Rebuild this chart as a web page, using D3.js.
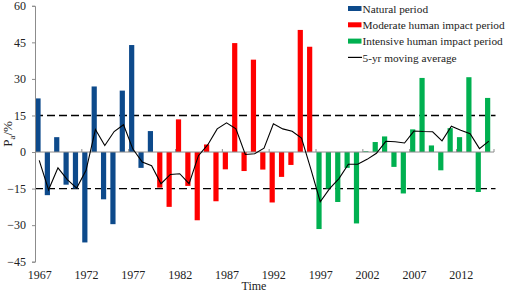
<!DOCTYPE html>
<html>
<head>
<meta charset="utf-8">
<script src="https://cdn.jsdelivr.net/npm/d3@7"></script>
<style>
  body { margin: 0; background: #fff; }
  svg { display: block; font-family: 'Liberation Serif', 'Times New Roman', serif; }
</style>
</head>
<body>
<div id="chart"></div>
<script>
// yearly Pa values (%), 1967-2015
const years = d3.range(1967, 2016)
const paValues = [
  22, -17.7, 6.1, -13.4, -15, -37.1, 26.9, -19.4, -29.6, 25.2, 43.9, -6.5, 8.6,
  -14.6, -22.5, 13.4, -13.9, -28, 3.1, -20.2, -7.1, 44.7, -7.8, 37.9, -7.2, -20.7, -10.2, -5.3, 50.1, 43.2,
  -31.6, -15, -20.5, -6.5, -29.3, 0.3, 4.1, 6.4, -6.1, -17, 9.3, 30.4, 2.7, -7.5, 9.8, 6.1, 30.7, -16.4, 22.2,
]
const movingAvg = [
  -3.4, -15.5, -6.5, -11.3, -14.8, -7.5, 9.3, 2.7, 8.4, 11.2, 1.2, -4.1, -5.6,
  -13, -9.2, -8.9, -13, -1.5, 3, 9.5, 12, 9.5, -1, -0.7, 1.6, 11.6, 9.5, 8.5, 5.7, -7,
  -20.4, -15, -10.9, -5, -5, -3, -0.5, 4.4, 4.2, 3.7, 8.6, 8.4, 8.3, 4.6, 10.6, 8.9, 7.5, 1.4, 4.5,
]
const periods = [
  { name: 'Natural period', start: 1967, end: 1979, color: '#0d4a8b' },
  { name: 'Moderate human impact period', start: 1980, end: 1996, color: '#ff0000' },
  { name: 'Intensive human impact period', start: 1997, end: 2015, color: '#00b050' },
]
const yTicks = [60, 45, 30, 15, 0, -15, -30, -45]
const xTickYears = [1967, 1972, 1977, 1982, 1987, 1992, 1997, 2002, 2007, 2012]
const thresholds = [15, -15]

const width = 505
const height = 292
const plotLeft = 35
const plotRight = 494
const plotTop = 5.8
const plotBottom = 261.7

const data = years.map((y, i) => ({
  year: y,
  value: paValues[i],
  avg: movingAvg[i],
  period: periods.find(p => y >= p.start && y <= p.end),
}))

const svg = d3.select('#chart').append('svg')
  .attr('width', width).attr('height', height)

const xScale = d3.scaleBand().domain(years).range([plotLeft, plotRight]).padding(0)
const yScale = d3.scaleLinear().domain([-45, 60]).range([plotBottom, plotTop])
const step = xScale.step()

// threshold dashed lines
svg.append('g').selectAll('line')
  .data(thresholds)
  .join('line')
  .attr('x1', plotLeft).attr('x2', 495.5)
  .attr('y1', d => yScale(d)).attr('y2', d => yScale(d))
  .attr('stroke', '#000').attr('stroke-width', 1.4)
  .attr('stroke-dasharray', '8,4')

// bars
svg.append('g').selectAll('rect')
  .data(data)
  .join('rect')
  .attr('x', d => xScale(d.year) + 0.4)
  .attr('width', 5.2)
  .attr('y', d => yScale(Math.max(0, d.value)))
  .attr('height', d => Math.abs(yScale(d.value) - yScale(0)))
  .attr('fill', d => d.period.color)

// x axis line at zero, ticks every 5 categories pointing up
const zeroY = yScale(0)
svg.append('line')
  .attr('x1', plotLeft).attr('x2', plotRight)
  .attr('y1', zeroY).attr('y2', zeroY)
  .attr('stroke', '#8c8c8c').attr('stroke-width', 1)
svg.append('g').selectAll('line')
  .data(years.filter((y, i) => i % 5 === 0 && i > 0).concat([2016]))
  .join('line')
  .attr('x1', d => (d === 2016 ? plotRight : xScale(d)))
  .attr('x2', d => (d === 2016 ? plotRight : xScale(d)))
  .attr('y1', zeroY).attr('y2', zeroY - 3)
  .attr('stroke', '#8c8c8c').attr('stroke-width', 1)

// moving average line
const line = d3.line()
  .x(d => xScale(d.year) + step * 0.45)
  .y(d => yScale(d.avg))
svg.append('path')
  .datum(data)
  .attr('d', line)
  .attr('fill', 'none')
  .attr('stroke', '#000')
  .attr('stroke-width', 1.1)

// y axis
const yAxis = svg.append('g')
  .attr('transform', `translate(${plotLeft},0)`)
  .call(d3.axisLeft(yScale).tickValues(yTicks).tickSize(3).tickPadding(6))
yAxis.select('.domain').attr('stroke', '#8c8c8c')
yAxis.selectAll('.tick line').attr('stroke', '#8c8c8c')
yAxis.selectAll('.tick text')
  .attr('fill', '#222')
  .style('font-size', '12px')
  .style('font-family', "'Liberation Serif', serif")

// x tick labels along the bottom
svg.append('g').selectAll('text')
  .data(xTickYears)
  .join('text')
  .attr('x', d => xScale(d) + step / 2)
  .attr('y', 279)
  .attr('text-anchor', 'middle')
  .attr('fill', '#222')
  .style('font-size', '12px')
  .text(d => d)

svg.append('text')
  .attr('x', 254).attr('y', 289.5)
  .attr('text-anchor', 'middle')
  .attr('fill', '#222')
  .style('font-size', '12px')
  .text('Time')

const yLabel = svg.append('text')
  .attr('transform', 'translate(12,134) rotate(-90)')
  .attr('text-anchor', 'middle')
  .attr('fill', '#222')
  .style('font-size', '13px')
yLabel.append('tspan').text('P')
yLabel.append('tspan').attr('dy', 3).style('font-size', '9px').text('a')
yLabel.append('tspan').attr('dy', -3).text('/%')

// legend
const legendItems = periods.map(p => ({ name: p.name, color: p.color, type: 'bar' }))
  .concat([{ name: '5-yr moving average', color: '#000', type: 'line' }])
const legend = svg.append('g').selectAll('g')
  .data(legendItems)
  .join('g')
  .attr('transform', (d, i) => `translate(348,${8.5 + i * 16.3})`)
legend.filter(d => d.type === 'bar').append('rect')
  .attr('x', 0).attr('y', -2.5).attr('width', 13.5).attr('height', 5)
  .attr('fill', d => d.color)
legend.filter(d => d.type === 'line').append('line')
  .attr('x1', 0).attr('x2', 14).attr('y1', 0).attr('y2', 0)
  .attr('stroke', '#000').attr('stroke-width', 1.2)
legend.append('text')
  .attr('x', 14.5).attr('y', 4.3)
  .attr('fill', '#222')
  .style('font-size', '11.3px')
  .text(d => d.name)
</script>
</body>
</html>
